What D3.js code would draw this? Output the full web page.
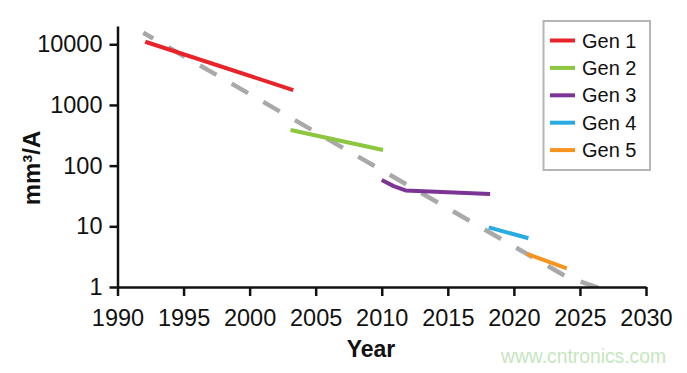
<!DOCTYPE html>
<html>
<head>
<meta charset="utf-8">
<script src="https://cdn.jsdelivr.net/npm/d3@7"></script>
<style>
  body { margin: 0; background: #fff; }
  svg { display: block; font-family: "Liberation Sans", Arial, Helvetica, sans-serif; }
</style>
</head>
<body>
<div id="chart"></div>
<script>
const width = 687;
const height = 373;

// generations as [year, mm3/A]
const genNames = ['Gen 1', 'Gen 2', 'Gen 3', 'Gen 4', 'Gen 5'];
const genColors = ['#e8232a', '#8dc63f', '#7d3595', '#29aae1', '#f7941d'];
const gen1 = [[1992.1, 11000], [2003.3, 1760]];
const gen2 = [[2003.1, 387], [2010.1, 181]];
const gen3 = [[2010.0, 58], [2010.9, 46], [2011.8, 39], [2018.2, 34]];
const gen4 = [[2018.1, 9.6], [2021.1, 6.35]];
const gen5 = [[2021.0, 3.5], [2024.0, 2.03]];
const trend = [[1991.95, 15500], [2024.0, 1.47], [2026.5, 0.95]];

const xTicks = [1990, 1995, 2000, 2005, 2010, 2015, 2020, 2025, 2030];
const yTicks = [1, 10, 100, 1000, 10000];

const svg = d3.select('#chart')
  .append('svg')
    .attr('width', width)
    .attr('height', height)
    .attr('viewBox', `0 0 ${width} ${height}`);

svg.append('rect').attr('width', width).attr('height', height).attr('fill', '#fff');

const x = d3.scaleLinear().domain([1990, 2030]).range([117.5, 646]);
const y = d3.scaleLog().domain([1, 20000]).range([287, 26]);

const line = d3.line().x(d => x(d[0])).y(d => y(d[1]));

svg.append('clipPath').attr('id', 'plot')
  .append('rect')
    .attr('x', x(1990)).attr('y', 0)
    .attr('width', x(2030) - x(1990)).attr('height', y(1));

// dashed trend
svg.append('path')
  .attr('clip-path', 'url(#plot)')
  .attr('d', line(trend))
  .attr('fill', 'none')
  .attr('stroke', '#a9a9a9')
  .attr('stroke-width', 4.5)
  .attr('stroke-dasharray', '19,17.5')
  .attr('stroke-dashoffset', 7.5);

const gens = [gen1, gen2, gen3, gen4, gen5];
svg.selectAll('path.gen').data(gens).enter().append('path')
  .attr('class', 'gen')
  .attr('d', d => line(d))
  .attr('fill', 'none')
  .attr('stroke', (d, i) => genColors[i])
  .attr('stroke-width', 4)
  .attr('stroke-linejoin', 'round');

// axes
const xAxis = svg.append('g')
  .attr('transform', `translate(0,${y(1)})`)
  .call(d3.axisBottom(x).tickValues(xTicks).tickFormat(d3.format('d')).tickSize(9).tickPadding(13).tickSizeOuter(0));

const yAxis = svg.append('g')
  .attr('transform', `translate(${x(1990)},0)`)
  .call(d3.axisLeft(y).tickValues(yTicks).tickFormat(d3.format('d')).tickSize(8).tickPadding(7).tickSizeOuter(0));

[xAxis, yAxis].forEach(g => {
  g.select('.domain').attr('stroke', '#111').attr('stroke-width', 2.5);
  g.selectAll('.tick line').attr('stroke', '#111').attr('stroke-width', 2.5);
  g.selectAll('.tick text').attr('fill', '#111').attr('font-size', 23.5);
});

// axis titles
svg.append('text')
  .attr('x', 371)
  .attr('y', 357)
  .attr('text-anchor', 'middle')
  .attr('font-size', 23)
  .attr('font-weight', 'bold')
  .attr('fill', '#111')
  .text('Year');

svg.append('text')
  .attr('transform', 'translate(40,168) rotate(-90)')
  .attr('text-anchor', 'middle')
  .attr('font-size', 24)
  .attr('font-weight', 'bold')
  .attr('fill', '#111')
  .text('mm³/A');

// legend
const legend = svg.append('g');
legend.append('rect')
  .attr('x', 543.5).attr('y', 21)
  .attr('width', 106.5).attr('height', 149)
  .attr('fill', '#fff')
  .attr('stroke', '#b5b5b5')
  .attr('stroke-width', 2);

const item = legend.selectAll('g.item').data(genNames).enter().append('g')
  .attr('class', 'item')
  .attr('transform', (d, i) => `translate(550,${40.5 + i * 27.4})`);
item.append('line')
  .attr('x1', 0).attr('x2', 25)
  .attr('stroke', (d, i) => genColors[i])
  .attr('stroke-width', 4);
item.append('text')
  .attr('x', 32)
  .attr('y', 7)
  .attr('font-size', 20)
  .attr('fill', '#111')
  .text(d => d);

// watermark
svg.append('text')
  .attr('x', 666)
  .attr('y', 363)
  .attr('text-anchor', 'end')
  .attr('font-size', 19.3)
  .attr('fill', '#c6e6be')
  .text('www.cntronics.com');
</script>
</body>
</html>
